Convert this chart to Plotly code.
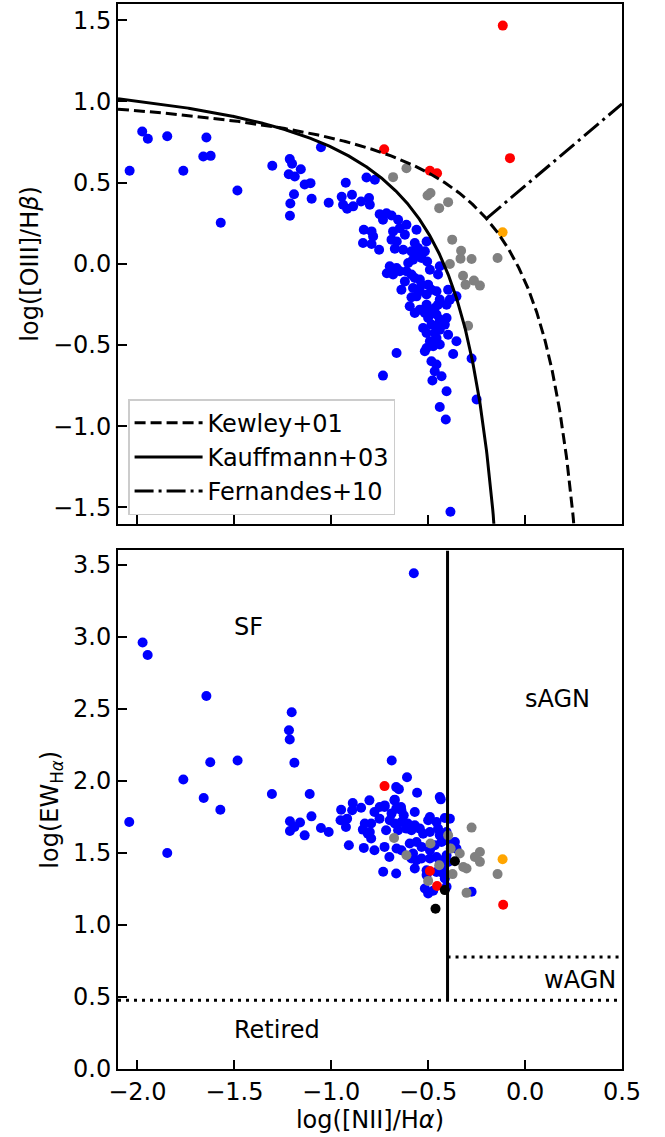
import numpy as np
import plotly.graph_objects as go

# ---------------- data ----------------
# BPT panel: log([NII]/Ha) vs log([OIII]/Hb)
bpt_sf_x = [-2.040, -1.975, -1.946, -1.846, -1.763, -1.644, -1.660, -1.622, -1.484, -1.570,
            -1.304, -1.053, -1.214, -1.202, -1.157, -1.219, -1.188, -1.137, -1.107, -1.192,
            -1.211, -1.213, -1.101, -1.013, -0.925, -0.946, -0.893, -0.939, -0.918, -0.887,
            -0.846, -0.805, -0.801, -0.818, -0.775, -0.750, -0.715, -0.733, -0.689, -0.655,
            -0.612, -0.646, -0.681, -0.620, -0.689, -0.662, -0.560, -0.832, -0.792, -0.784,
            -0.836, -0.792, -0.753, -0.672, -0.629, -0.569, -0.552, -0.560, -0.586, -0.508,
            -0.534, -0.578, -0.603, -0.517, -0.505, -0.698, -0.663, -0.713, -0.681, -0.646,
            -0.612, -0.586, -0.620, -0.569, -0.543, -0.491, -0.440, -0.449, -0.534, -0.500,
            -0.578, -0.543, -0.560, -0.508, -0.483, -0.638, -0.586, -0.457, -0.440, -0.397,
            -0.354, -0.388, -0.405, -0.449, -0.595, -0.569, -0.543, -0.508, -0.517, -0.491,
            -0.466, -0.500, -0.457, -0.440, -0.405, -0.414, -0.449, -0.483, -0.526, -0.508,
            -0.466, -0.440, -0.397, -0.354, -0.491, -0.508, -0.474, -0.440, -0.457, -0.663,
            -0.517, -0.483, -0.457, -0.371, -0.276, -0.733, -0.466, -0.431, -0.478, -0.405,
            -0.440, -0.409, -0.250, -0.385]
bpt_sf_y = [0.573, 0.815, 0.770, 0.786, 0.573, 0.778, 0.661, 0.665, 0.452, 0.253,
            0.604, 0.718, 0.645, 0.616, 0.583, 0.552, 0.538, 0.489, 0.497, 0.429,
            0.372, 0.296, 0.401, 0.376, 0.499, 0.413, 0.426, 0.364, 0.340, 0.354,
            0.384, 0.405, 0.364, 0.532, 0.518, 0.306, 0.312, 0.272, 0.298, 0.272,
            0.241, 0.220, 0.200, 0.180, 0.149, 0.138, 0.210, 0.210, 0.200, 0.169,
            0.128, 0.122, 0.087, 0.093, 0.087, 0.128, 0.097, 0.057, 0.077, 0.138,
            0.036, 0.026, 0.005, 0.077, 0.015, -0.015, -0.026, -0.058, -0.066, -0.046,
            -0.046, -0.066, -0.108, -0.087, -0.097, -0.036, -0.015, -0.066, -0.128, -0.128,
            -0.149, -0.169, -0.200, -0.189, -0.159, -0.159, -0.206, -0.169, -0.220, -0.159,
            -0.200, -0.220, -0.251, -0.251, -0.261, -0.303, -0.282, -0.251, -0.303, -0.292,
            -0.272, -0.333, -0.312, -0.343, -0.333, -0.374, -0.374, -0.374, -0.395, -0.426,
            -0.426, -0.405, -0.436, -0.477, -0.477, -0.518, -0.507, -0.497, -0.456, -0.549,
            -0.538, -0.600, -0.620, -0.555, -0.583, -0.688, -0.661, -0.692, -0.718, -0.784,
            -0.881, -0.958, -0.835, -1.526]

bpt_comp_x = [-0.681, -0.612, -0.488, -0.503, -0.397, -0.443, -0.376, -0.330, -0.333, -0.276,
              -0.388, -0.142, -0.320, -0.264, -0.307, -0.233, -0.294]
bpt_comp_y = [0.534, 0.589, 0.436, 0.421, 0.380, 0.343, 0.149, 0.081, 0.032, 0.030,
              -0.001, 0.036, -0.073, -0.103, -0.128, -0.134, -0.381]

bpt_red_x = [-0.727, -0.491, -0.454, -0.078, -0.115]
bpt_red_y = [0.706, 0.573, 0.558, 0.651, 1.467]

bpt_orange_x = [-0.116]
bpt_orange_y = [0.194]

# WHAN panel: log([NII]/Ha) vs log(EW_Ha)
whan_sf_x = [-0.574, -1.973, -1.947, -1.644, -1.204, -1.218, -1.214, -1.624, -1.483, -1.190,
             -0.688, -1.763, -0.609, -0.665, -0.651, -0.557, -1.658, -1.572, -1.306, -1.111,
             -2.042, -1.846, -1.213, -1.161, -1.190, -1.213, -1.137, -1.102, -1.053, -1.013,
             -0.949, -0.889, -0.846, -0.803, -0.918, -0.952, -0.924, -0.892, -0.837, -0.811,
             -0.794, -0.794, -0.751, -0.909, -0.832, -0.777, -0.725, -0.700, -0.732, -0.665,
             -0.717, -0.777, -0.725, -0.674, -0.665, -0.640, -0.626, -0.605, -0.440, -0.435,
             -0.750, -0.724, -0.672, -0.638, -0.689, -0.569, -0.638, -0.569, -0.612, -0.672,
             -0.698, -0.491, -0.500, -0.457, -0.414, -0.388, -0.827, -0.801, -0.655, -0.586,
             -0.543, -0.526, -0.491, -0.449, -0.440, -0.405, -0.663, -0.595, -0.560, -0.534,
             -0.491, -0.466, -0.431, -0.405, -0.362, -0.354, -0.638, -0.578, -0.560, -0.586,
             -0.534, -0.491, -0.457, -0.440, -0.405, -0.397, -0.423, -0.569, -0.508, -0.457,
             -0.423, -0.414, -0.508, -0.500, -0.474, -0.517, -0.405, -0.276]
whan_sf_y = [3.442, 2.961, 2.874, 2.590, 2.477, 2.352, 2.287, 2.130, 2.142, 2.126,
             2.142, 2.010, 2.026, 1.957, 1.943, 1.918, 1.881, 1.800, 1.909, 1.909,
             1.715, 1.500, 1.720, 1.711, 1.680, 1.652, 1.622, 1.754, 1.673, 1.646,
             1.800, 1.846, 1.814, 1.865, 1.738, 1.727, 1.680, 1.796, 1.662, 1.634,
             1.600, 1.704, 1.738, 1.553, 1.535, 1.519, 1.542, 1.472, 1.369, 1.357,
             1.657, 1.784, 1.819, 1.865, 1.807, 1.819, 1.761, 1.704, 1.888, 1.872,
             1.819, 1.830, 1.870, 1.796, 1.773, 1.784, 1.715, 1.692, 1.669, 1.704,
             1.727, 1.749, 1.727, 1.715, 1.743, 1.738, 1.704, 1.646, 1.657, 1.657,
             1.669, 1.634, 1.646, 1.669, 1.622, 1.645, 1.531, 1.565, 1.576, 1.542,
             1.519, 1.553, 1.576, 1.588, 1.576, 1.530, 1.519, 1.496, 1.449, 1.461,
             1.461, 1.461, 1.472, 1.449, 1.484, 1.437, 1.403, 1.392, 1.380, 1.368,
             1.357, 1.323, 1.346, 1.219, 1.237, 1.253, 1.265, 1.230]

whan_comp_x = [-0.676, -0.612, -0.488, -0.443, -0.397, -0.384, -0.374, -0.500, -0.337, -0.319,
               -0.302, -0.259, -0.233, -0.233, -0.276, -0.142, -0.302]
whan_comp_y = [1.604, 1.484, 1.565, 1.415, 1.622, 1.530, 1.353, 1.306, 1.496, 1.403,
               1.392, 1.472, 1.507, 1.438, 1.676, 1.353, 1.223]

whan_red_x = [-0.725, -0.491, -0.454, -0.113]
whan_red_y = [1.964, 1.375, 1.271, 1.140]

whan_orange_x = [-0.116]
whan_orange_y = [1.456]

whan_black_x = [-0.362, -0.414, -0.462]
whan_black_y = [1.442, 1.242, 1.112]

# demarcation-line constants (published relations)
KEW = (0.61, 0.47, 1.19)      # Kewley+01
KAU = (0.61, 0.05, 1.30)      # Kauffmann+03
FER = (1.01, 0.48)            # Fernandes+10 (BPT)
WHAN_NII = -0.4
WHAN_EW_SF = np.log10(3.0)
WHAN_EW_WAGN = np.log10(6.0)

X_RANGE = [-2.1, 0.5]
BPT_RANGE = [-1.6, 1.6]
WHAN_RANGE = [0.0, 3.6]

# ---------------- figure ----------------
FONT = "DejaVu Sans"
FS = 24
MS = 10

fig = go.Figure()


def pts(x, y, color, ya):
    xa = "x" if ya == "y" else "x2"
    return go.Scatter(x=x, y=y, mode="markers", xaxis=xa, yaxis=ya,
                      marker=dict(color=color, size=MS, line=dict(width=0)),
                      showlegend=False, hoverinfo="skip")


# BPT points
fig.add_trace(pts(bpt_sf_x, bpt_sf_y, "#0000ff", "y"))
fig.add_trace(pts(bpt_comp_x, bpt_comp_y, "#808080", "y"))
fig.add_trace(pts(bpt_red_x, bpt_red_y, "#ff0000", "y"))
fig.add_trace(pts(bpt_orange_x, bpt_orange_y, "#ffa500", "y"))

# BPT curves
xk = np.linspace(X_RANGE[0], 0.30, 800)
yk = KEW[0] / (xk - KEW[1]) + KEW[2]
xa = np.linspace(X_RANGE[0], -0.12, 800)
ya = KAU[0] / (xa - KAU[1]) + KAU[2]
# intersection of Fernandes line with Kewley curve
aa = FER[0]
bb = -(FER[0] * KEW[1] + (KEW[2] - FER[1]))
cc = (KEW[2] - FER[1]) * KEW[1] - KEW[0]
x0 = (-bb - np.sqrt(bb * bb - 4 * aa * cc)) / (2 * aa)
xf = np.array([x0, X_RANGE[1]])
yf = FER[0] * xf + FER[1]

LW = 3
fig.add_trace(go.Scatter(x=xk, y=yk, mode="lines", name="Kewley+01", legendgroup="a",
                         line=dict(color="black", width=LW, dash="11px,5px"), xaxis="x", yaxis="y",
                         hoverinfo="skip"))
fig.add_trace(go.Scatter(x=xa, y=ya, mode="lines", name="Kauffmann+03", legendgroup="b",
                         line=dict(color="black", width=LW), xaxis="x", yaxis="y",
                         hoverinfo="skip"))
fig.add_trace(go.Scatter(x=xf, y=yf, mode="lines", name="Fernandes+10", legendgroup="c",
                         line=dict(color="black", width=LW, dash="19px,5px,3px,5px"), xaxis="x", yaxis="y",
                         hoverinfo="skip"))

# WHAN points
fig.add_trace(pts(whan_sf_x, whan_sf_y, "#0000ff", "y2"))
fig.add_trace(pts(whan_comp_x, whan_comp_y, "#808080", "y2"))
fig.add_trace(pts(whan_red_x, whan_red_y, "#ff0000", "y2"))
fig.add_trace(pts(whan_orange_x, whan_orange_y, "#ffa500", "y2"))
fig.add_trace(pts(whan_black_x, whan_black_y, "black", "y2"))

# WHAN lines
fig.add_trace(go.Scatter(x=[WHAN_NII, WHAN_NII], y=[WHAN_EW_SF, WHAN_RANGE[1]], mode="lines",
                         line=dict(color="black", width=LW), xaxis="x2", yaxis="y2",
                         showlegend=False, hoverinfo="skip"))
fig.add_trace(go.Scatter(x=X_RANGE, y=[WHAN_EW_SF, WHAN_EW_SF], mode="lines",
                         line=dict(color="black", width=LW, dash="3px,5px"), xaxis="x2", yaxis="y2",
                         showlegend=False, hoverinfo="skip"))
fig.add_trace(go.Scatter(x=[WHAN_NII, X_RANGE[1]], y=[WHAN_EW_WAGN, WHAN_EW_WAGN], mode="lines",
                         line=dict(color="black", width=LW, dash="3px,5px"), xaxis="x2", yaxis="y2",
                         showlegend=False, hoverinfo="skip"))

region_labels = ["SF", "sAGN", "wAGN", "Retired"]
region_x = [-1.5, 0.0, 0.1, -1.5]
region_y = [3.0, 2.5, 0.55, 0.2]
for t, xx, yy in zip(region_labels, region_x, region_y):
    fig.add_annotation(x=xx, y=yy, xref="x2", yref="y2", text=t, showarrow=False,
                       xanchor="left", yanchor="bottom", yshift=-6, xshift=-2,
                       font=dict(family=FONT, size=FS, color="black"))

axis_common = dict(showline=True, linewidth=2, linecolor="black", mirror=True,
                   ticks="inside", ticklen=9, tickwidth=2, tickcolor="black",
                   showgrid=False, zeroline=False,
                   tickfont=dict(family=FONT, size=FS, color="black"))

fig.update_layout(
    width=665, height=1137,
    margin=dict(l=118, r=43, t=2, b=68),
    paper_bgcolor="white", plot_bgcolor="white",
    font=dict(family=FONT, size=FS, color="black"),
    xaxis=dict(domain=[0, 1], range=X_RANGE, anchor="y", dtick=0.5, tick0=0,
               showticklabels=False, **axis_common),
    xaxis2=dict(domain=[0, 1], range=X_RANGE, anchor="y2", matches="x", dtick=0.5, tick0=0,
                tickformat=".1f",
                title=dict(text="log([NII]/H<i>α</i>)", standoff=2,
                           font=dict(family=FONT, size=FS)), **axis_common),
    yaxis=dict(domain=[0.512, 1.0], range=BPT_RANGE, anchor="x", dtick=0.5, tick0=0,
               tickformat=".1f",
               title=dict(text="log([OIII]/H<i>β</i>)", standoff=8,
                          font=dict(family=FONT, size=FS)), **axis_common),
    yaxis2=dict(domain=[0.0, 0.4869], range=WHAN_RANGE, anchor="x2", dtick=0.5, tick0=0,
                tickformat=".1f",
                title=dict(text="log(EW<sub>H<i>α</i></sub>)", standoff=8,
                           font=dict(family=FONT, size=FS)), **axis_common),
    legend=dict(x=0.02, y=0.629, xanchor="left", yanchor="top",
                bgcolor="rgba(255,255,255,0.8)", bordercolor="#cccccc", borderwidth=1.5,
                font=dict(family=FONT, size=FS, color="black"),
                traceorder="grouped", tracegroupgap=0, itemwidth=68),
    showlegend=True,
)

fig.write_html("out.html", config={"displayModeBar": False},
               post_script="document.body.style.margin='0px';")
